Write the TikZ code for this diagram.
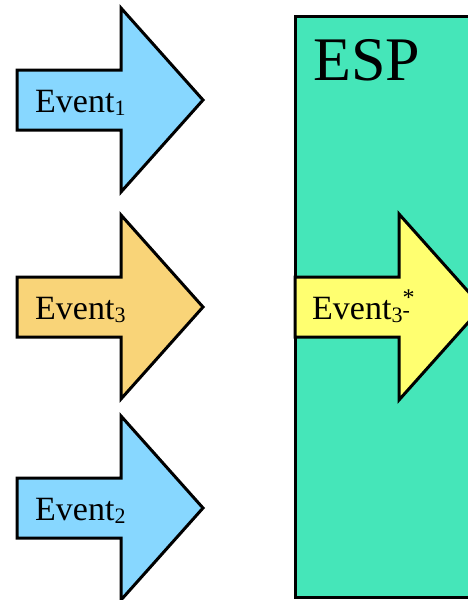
\documentclass[tikz,border=0pt]{standalone}
\usepackage{fontspec}
\setmainfont{Liberation Serif}
\usepackage{tikz}
\usetikzlibrary{positioning}
\definecolor{evblue}{RGB}{135,215,255}
\definecolor{evorange}{RGB}{249,212,120}
\definecolor{evyellow}{RGB}{255,255,112}
\definecolor{espgreen}{RGB}{69,230,185}
\newcommand{\evsub}[1]{\raisebox{-3pt}{\fontsize{22pt}{22pt}\selectfont #1}}
\tikzset{
  evarrow/.style={draw=black,line width=3pt,line join=miter},
  evlabel/.style={anchor=base west,inner sep=0pt,font=\fontsize{34pt}{36pt}\selectfont},
}

\begin{document}
\begin{tikzpicture}[x=1pt,y=-1pt]
    \useasboundingbox (0,0) rectangle (468,600);
    \clip (0,0) rectangle (468,600);

    % the ESP box
    \filldraw[evarrow,fill=espgreen] (295,16) rectangle (490,597);
    \node[anchor=base west,inner sep=0pt,font=\fontsize{62pt}{64pt}\selectfont] (esp) at (313,80) {ESP};

    % incoming events
    \filldraw[evarrow,fill=evblue] (17,70) -- (121,70) -- (121,8) -- (203,100) -- (121,192) -- (121,130) -- (17,130) -- cycle;
    \node[evlabel] (ev1) at (35,112) {Event\evsub{1}};

    \filldraw[evarrow,fill=evorange] (17,277) -- (121,277) -- (121,215) -- (203,307) -- (121,399) -- (121,337) -- (17,337) -- cycle;
    \node[evlabel] (ev3) at (35,319) {Event\evsub{3}};

    \filldraw[evarrow,fill=evblue] (17,478) -- (121,478) -- (121,416) -- (203,508) -- (121,600) -- (121,538) -- (17,538) -- cycle;
    \node[evlabel] (ev2) at (35,520) {Event\evsub{2}};

    % derived event inside ESP
    \filldraw[evarrow,fill=evyellow] (295,277) -- (399,277) -- (399,214) -- (482,307) -- (399,400) -- (399,337) -- (295,337) -- cycle;
    \node[evlabel] (evout) at (312,319) {Event\evsub{3}\rlap{\raisebox{14pt}{\fontsize{24pt}{24pt}\selectfont *}}{\fontsize{22pt}{22pt}\selectfont\raisebox{2pt}{-}}};
\end{tikzpicture}
\end{document}
